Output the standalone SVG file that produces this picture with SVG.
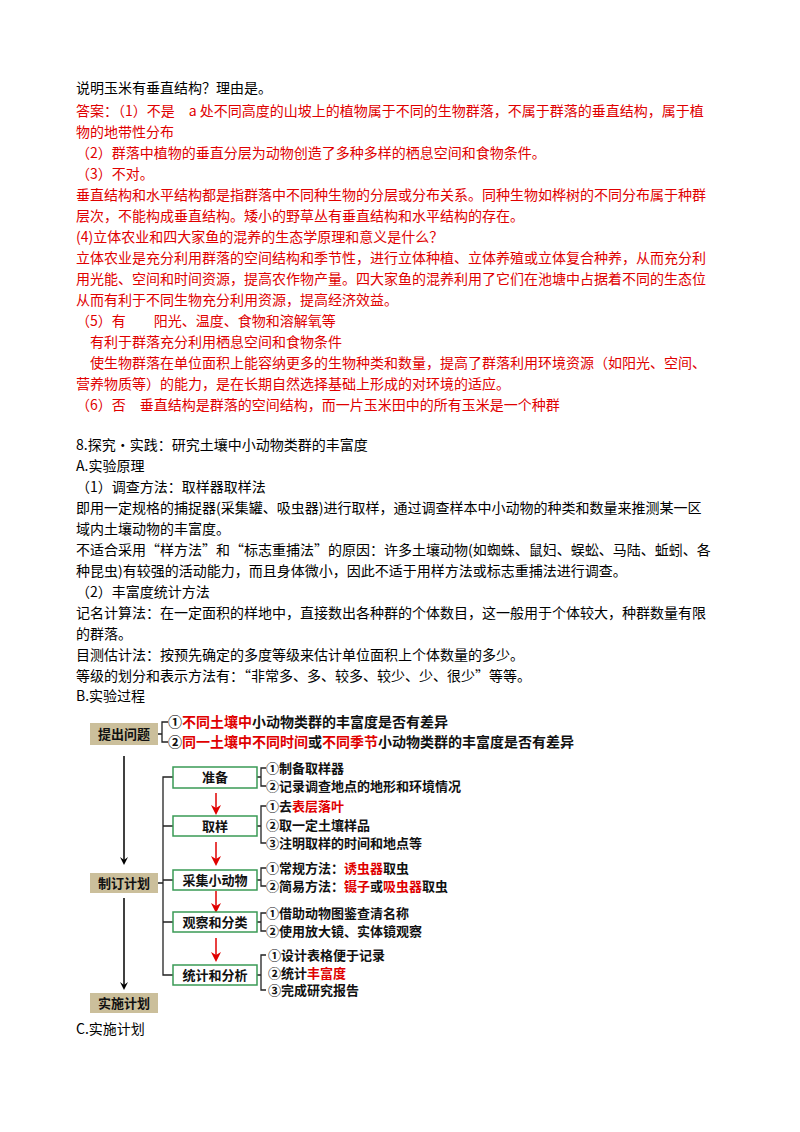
<svg xmlns="http://www.w3.org/2000/svg" width="800" height="1132" viewBox="0 0 800 1132">
<style>
.t{font-family:"Noto Sans CJK SC","Noto Sans",sans-serif;font-size:14px;fill:#000}
.r{fill:#e00000}
.b{font-family:"Noto Sans CJK SC",sans-serif;font-size:13px;font-weight:bold;fill:#111}
.i{font-family:"Noto Sans CJK SC",sans-serif;font-size:14px;font-weight:bold;fill:#111}
.tan{fill:#cbbf9b}
.g{fill:#fff;stroke:#3a9a55;stroke-width:1.5}
.br{fill:none;stroke:#222;stroke-width:1.3}
</style>
<defs>
<marker id="ab" markerWidth="8" markerHeight="8" refX="5" refY="4" orient="auto" markerUnits="userSpaceOnUse"><path d="M0,0 L8,4 L0,8 L3,4 z" fill="#000"/></marker>
<marker id="ar" markerWidth="10" markerHeight="10" refX="6" refY="5" orient="auto" markerUnits="userSpaceOnUse"><path d="M0,0 L10,5 L0,10 L3,5 z" fill="#e00000"/></marker>
</defs>
<rect width="800" height="1132" fill="#fff"/>
<g id="text">
<text class="t" x="76" y="93">说明玉米有垂直结构？理由是。</text>
<text class="t r" x="76" y="116">答案：（1）不是　a 处不同高度的山坡上的植物属于不同的生物群落，不属于群落的垂直结构，属于植</text>
<text class="t r" x="76" y="137">物的地带性分布</text>
<text class="t r" x="76" y="158">（2）群落中植物的垂直分层为动物创造了多种多样的栖息空间和食物条件。</text>
<text class="t r" x="76" y="179">（3）不对。</text>
<text class="t r" x="76" y="200">垂直结构和水平结构都是指群落中不同种生物的分层或分布关系。同种生物如桦树的不同分布属于种群</text>
<text class="t r" x="76" y="221">层次，不能构成垂直结构。矮小的野草丛有垂直结构和水平结构的存在。</text>
<text class="t r" x="76" y="242">(4)立体农业和四大家鱼的混养的生态学原理和意义是什么？</text>
<text class="t r" x="76" y="263">立体农业是充分利用群落的空间结构和季节性，进行立体种植、立体养殖或立体复合种养，从而充分利</text>
<text class="t r" x="76" y="284">用光能、空间和时间资源，提高农作物产量。四大家鱼的混养利用了它们在池塘中占据着不同的生态位</text>
<text class="t r" x="76" y="305">从而有利于不同生物充分利用资源，提高经济效益。</text>
<text class="t r" x="76" y="326">（5）有　　阳光、温度、食物和溶解氧等</text>
<text class="t r" x="76" y="347">　有利于群落充分利用栖息空间和食物条件</text>
<text class="t r" x="76" y="368">　使生物群落在单位面积上能容纳更多的生物种类和数量，提高了群落利用环境资源（如阳光、空间、</text>
<text class="t r" x="76" y="389">营养物质等）的能力，是在长期自然选择基础上形成的对环境的适应。</text>
<text class="t r" x="76" y="410">（6）否　垂直结构是群落的空间结构，而一片玉米田中的所有玉米是一个种群</text>
<text class="t" x="76" y="450">8.探究•实践：研究土壤中小动物类群的丰富度</text>
<text class="t" x="76" y="471">A.实验原理</text>
<text class="t" x="76" y="492">（1）调查方法：取样器取样法</text>
<text class="t" x="76" y="513">即用一定规格的捕捉器(采集罐、吸虫器)进行取样，通过调查样本中小动物的种类和数量来推测某一区</text>
<text class="t" x="76" y="534">域内土壤动物的丰富度。</text>
<text class="t" x="76" y="555">不适合采用“样方法”和“标志重捕法”的原因：许多土壤动物(如蜘蛛、鼠妇、蜈蚣、马陆、蚯蚓、各</text>
<text class="t" x="76" y="576">种昆虫)有较强的活动能力，而且身体微小，因此不适于用样方法或标志重捕法进行调查。</text>
<text class="t" x="76" y="597">（2）丰富度统计方法</text>
<text class="t" x="76" y="618">记名计算法：在一定面积的样地中，直接数出各种群的个体数目，这一般用于个体较大，种群数量有限</text>
<text class="t" x="76" y="639">的群落。</text>
<text class="t" x="76" y="660">目测估计法：按预先确定的多度等级来估计单位面积上个体数量的多少。</text>
<text class="t" x="76" y="681">等级的划分和表示方法有：“非常多、多、较多、较少、少、很少”等等。</text>
<text class="t" x="76" y="701">B.实验过程</text>
<text class="t" x="76" y="1034">C.实施计划</text>
</g>
<g id="connectors">
<line x1="124" y1="756" x2="124" y2="862" stroke="#000" stroke-width="1.5" marker-end="url(#ab)"/>
<line x1="124" y1="898" x2="124" y2="987" stroke="#000" stroke-width="1.5" marker-end="url(#ab)"/>
<path class="br" d="M158,734 H162 M168,722 H162 V742 H168"/>
<path class="br" d="M158,883 H163 M173,777 H163 V975 H173 M163,826 H173 M163,880 H173 M163,922 H173"/>
<path class="br" d="M257,777 H261 M266,768 H261 V786 H266"/>
<path class="br" d="M257,826 H261 M266,806 H261 V843 H266"/>
<path class="br" d="M257,880 H261 M266,868 H261 V886 H266"/>
<path class="br" d="M257,922 H261 M266,913 H261 V931 H266"/>
<path class="br" d="M257,975 H261 M266,955 H261 V990 H266"/>
<g stroke="#e00000" stroke-width="1.5">
<line x1="216" y1="793" x2="216" y2="811" marker-end="url(#ar)"/>
<line x1="216" y1="842" x2="216" y2="862" marker-end="url(#ar)"/>
<line x1="216" y1="891" x2="216" y2="909" marker-end="url(#ar)"/>
<line x1="216" y1="938" x2="216" y2="958" marker-end="url(#ar)"/>
</g>
</g>
<g id="n-tiwen"><rect class="tan" x="90" y="723" width="68" height="22"/><text class="b" x="124" y="739" text-anchor="middle">提出问题</text></g>
<g id="n-zhiding"><rect class="tan" x="90" y="873" width="68" height="20"/><text class="b" x="124" y="888" text-anchor="middle">制订计划</text></g>
<g id="n-shishi"><rect class="tan" x="90" y="993" width="68" height="20"/><text class="b" x="124" y="1008" text-anchor="middle">实施计划</text></g>
<g id="n-zhunbei"><rect class="g" x="173" y="767" width="84" height="21"/><text class="b" x="215" y="782" text-anchor="middle">准备</text></g>
<g id="n-quyang"><rect class="g" x="173" y="816" width="84" height="20"/><text class="b" x="215" y="831" text-anchor="middle">取样</text></g>
<g id="n-caiji"><rect class="g" x="173" y="870" width="84" height="20"/><text class="b" x="215" y="885" text-anchor="middle">采集小动物</text></g>
<g id="n-guancha"><rect class="g" x="173" y="912" width="84" height="20"/><text class="b" x="215" y="927" text-anchor="middle">观察和分类</text></g>
<g id="n-tongji"><rect class="g" x="173" y="965" width="84" height="20"/><text class="b" x="215" y="980" text-anchor="middle">统计和分析</text></g>
<g id="items">
<text class="i" x="168" y="727">①<tspan class="r">不同土壤中</tspan>小动物类群的丰富度是否有差异</text>
<text class="i" x="168" y="747">②<tspan class="r">同一土壤中不同时间</tspan>或<tspan class="r">不同季节</tspan>小动物类群的丰富度是否有差异</text>
<text class="b" x="266" y="773">①制备取样器</text>
<text class="b" x="266" y="791">②记录调查地点的地形和环境情况</text>
<text class="b" x="266" y="811">①去<tspan class="r">表层落叶</tspan></text>
<text class="b" x="266" y="830">②取一定土壤样品</text>
<text class="b" x="266" y="848">③注明取样的时间和地点等</text>
<text class="b" x="266" y="873">①常规方法：<tspan class="r">诱虫器</tspan>取虫</text>
<text class="b" x="266" y="891">②简易方法：<tspan class="r">镊子</tspan>或<tspan class="r">吸虫器</tspan>取虫</text>
<text class="b" x="266" y="918">①借助动物图鉴查清名称</text>
<text class="b" x="266" y="936">②使用放大镜、实体镜观察</text>
<text class="b" x="268" y="960">①设计表格便于记录</text>
<text class="b" x="268" y="978">②统计<tspan class="r">丰富度</tspan></text>
<text class="b" x="268" y="995">③完成研究报告</text>
</g>
</svg>
